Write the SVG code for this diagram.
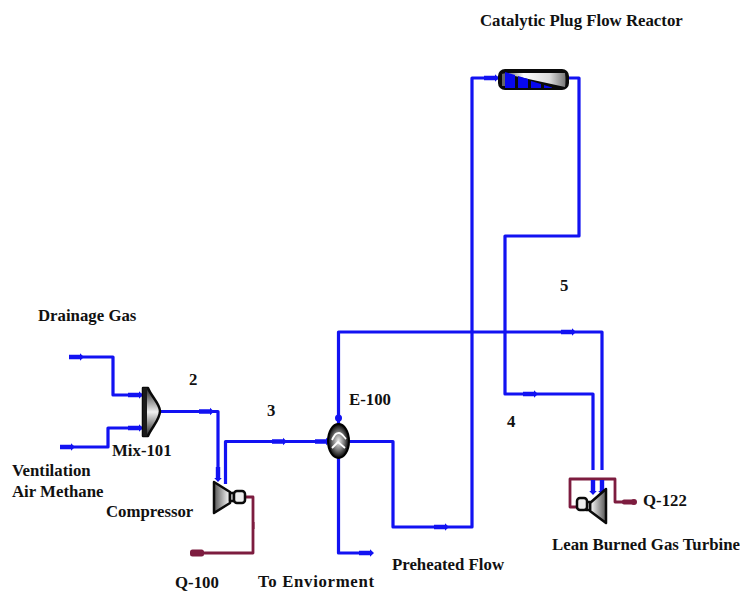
<svg xmlns="http://www.w3.org/2000/svg" width="740" height="592" viewBox="0 0 740 592">
<style>
text{font-family:"Liberation Serif","Times New Roman",serif;font-weight:bold;font-size:16.8px;fill:#111}
.b{fill:none;stroke:#1212f2;stroke-width:3.2;stroke-linejoin:round}
.m{fill:none;stroke:#7d1c3f;stroke-width:2.8;stroke-linejoin:round}
.ba{fill:#1212f2}.ma{fill:#7d1c3f}
.eq{stroke:#0a0a0a;stroke-width:2.5;stroke-linejoin:round}
</style>
<defs>
<linearGradient id="gv" x1="0" y1="0" x2="0" y2="1"><stop offset="0" stop-color="#222"/><stop offset=".5" stop-color="#f0f0f0"/><stop offset="1" stop-color="#222"/></linearGradient>
<linearGradient id="gh" x1="0" y1="0" x2="1" y2="0"><stop offset="0" stop-color="#fff"/><stop offset="1" stop-color="#555"/></linearGradient>
<linearGradient id="gh2" x1="0" y1="0" x2="1" y2="0"><stop offset="0" stop-color="#555"/><stop offset="1" stop-color="#fff"/></linearGradient>
<linearGradient id="gt" x1="0" y1="0" x2="1" y2="0"><stop offset="0" stop-color="#333"/><stop offset=".35" stop-color="#fff"/><stop offset=".75" stop-color="#ddd"/><stop offset="1" stop-color="#777"/></linearGradient>
<radialGradient id="gr"><stop offset="0" stop-color="#eee"/><stop offset=".55" stop-color="#777"/><stop offset="1" stop-color="#000"/></radialGradient>
<path id="ah" d="M-11-2.200H0V-3.800L4 0 0 3.800V2.200H-11Z"/>
</defs>
<g id="connectors">
<path class="b" d="M72 357H113V395H142"/>
<path class="b" d="M62 447H108V428H142"/>
<path class="b" d="M160 411.500H218V478"/>
<path class="b" d="M225.500 484V441.500H330"/>
<path class="b" d="M338.500 432V332H602V470"/>
<path class="b" d="M338.500 458V553H372"/>
<path class="b" d="M349 441.500H393V527H472V78H498"/>
<path class="b" d="M568 78H579V236H505V394H593V470"/>
<path class="m" d="M245 497H253V553H192"/>
<path class="m" d="M577 507H570V479H615V502H634"/>
<use href="#ah" class="ba" x="80" y="357"/>
<use href="#ah" class="ba" x="71" y="447"/>
<use href="#ah" class="ba" x="139" y="395"/>
<use href="#ah" class="ba" x="139" y="428"/>
<use href="#ah" class="ba" x="210" y="411.500"/>
<use href="#ah" class="ba" x="283" y="441.500"/>
<use href="#ah" class="ba" x="326" y="441.500"/>
<use href="#ah" class="ba" x="370" y="553"/>
<use href="#ah" class="ba" x="445" y="527"/>
<use href="#ah" class="ba" x="495" y="78"/>
<use href="#ah" class="ba" x="572" y="332"/>
<use href="#ah" class="ba" x="534" y="394"/>
<use href="#ah" class="ba" transform="translate(218 478) rotate(90)"/>
<use href="#ah" class="ba" transform="translate(593 491) rotate(90)"/>
<use href="#ah" class="ba" transform="translate(602 491) rotate(90)"/>
<circle class="ba" cx="338.500" cy="418" r="3.500"/>
<rect class="ma" x="190" y="549.500" width="14" height="7" rx="2.500"/>
<rect class="ma" x="622" y="499.500" width="13" height="5" rx="2"/>
<circle class="ma" cx="634" cy="502" r="3"/>
<rect class="ma" x="252" y="522" width="2.500" height="7"/>
</g>
<g id="reactor">
<rect x="499" y="70" width="69" height="19" rx="6" fill="#0a0a0a" stroke="#0a0a0a" stroke-width="2"/>
<path d="M501 73H565Q566 80 565 87Z" fill="url(#gt)"/>
<path d="M502 74H505V86H502Z" fill="#666"/>
<path d="M505 72L515 75V88H505Z M518 76L528 79V88H518Z M531 81L541 84V88H531Z M544 85L552 87.500V88H544Z" fill="#0808ee"/>
</g>
<g id="mixer">
<path class="eq" d="M143 388H148C151 396 160 404 160 411C160 420 151 428 148 436H143Z" fill="url(#gv)"/>
<path d="M143 388H147V436H143Z" fill="#1a1a1a"/>
</g>
<g id="compressor">
<path class="eq" d="M214 482L230 492V503L214 513Z" fill="url(#gh2)"/>
<rect class="eq" x="230" y="493" width="4" height="8" fill="#ddd"/>
<rect class="eq" x="234" y="491" width="11" height="12" rx="3" fill="#eee"/>
</g>
<g id="exchanger">
<ellipse cx="338.500" cy="441" rx="10.500" ry="17" fill="url(#gr)" stroke="#000" stroke-width="2"/>
<path d="M332 440C335 434 336 433 339 433 342 433 343 436 346 439M332 448L338 442 345 448" fill="none" stroke="#fff" stroke-width="1.800"/>
</g>
<g id="turbine">
<path class="eq" d="M606 489L590 503V511L606 523Z" fill="url(#gh)"/>
<rect class="eq" x="586" y="502" width="4" height="8" fill="#ddd"/>
<rect class="eq" x="577" y="498" width="10" height="12" rx="3" fill="#eee"/>
</g>
<g id="labels">
<text x="480" y="26">Catalytic Plug Flow Reactor</text>
<text x="38" y="321">Drainage Gas</text>
<text x="189" y="385">2</text>
<text x="267" y="416">3</text>
<text x="560" y="291">5</text>
<text x="507" y="427">4</text>
<text x="349" y="405">E-100</text>
<text x="112" y="456">Mix-101</text>
<text x="12" y="476">Ventilation</text>
<text x="12" y="497">Air Methane</text>
<text x="106" y="517">Compressor</text>
<text x="643" y="506">Q-122</text>
<text x="552" y="550">Lean Burned Gas Turbine</text>
<text x="392" y="570">Preheated Flow</text>
<text x="175" y="587.500">Q-100</text>
<text x="258" y="587" textLength="116">To Enviorment</text>
</g>
</svg>
